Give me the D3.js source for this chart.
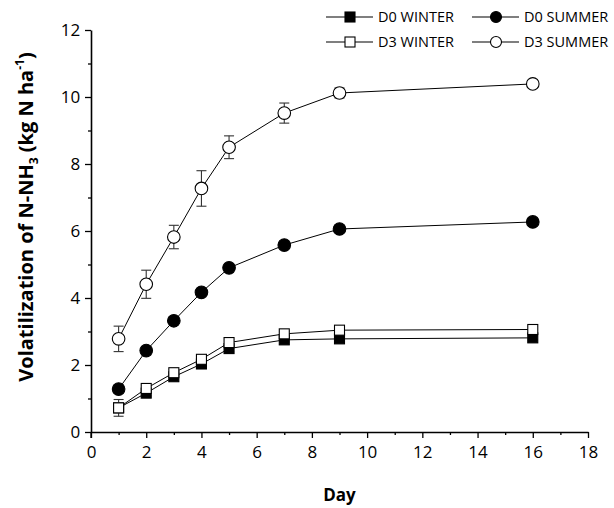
<!DOCTYPE html>
<html>
<head>
<meta charset="utf-8">
<script src="https://cdn.jsdelivr.net/npm/d3@7"></script>
<style>
  body { margin: 0; background: #fff; }
  text { font-family: "Open Sans", "Lato", sans-serif; }
</style>
</head>
<body>
<script>
(function(){

//sampling days
var days = [1, 2, 3, 4, 5, 7, 9, 16];

//series values (kg N ha-1)
var d0Winter = [0.72, 1.16, 1.65, 2.03, 2.49, 2.75, 2.78, 2.81];
var d3Winter = [0.72, 1.3, 1.77, 2.17, 2.67, 2.93, 3.04, 3.06];
var d0Summer = [1.28, 2.43, 3.32, 4.17, 4.9, 5.58, 6.06, 6.27];
var d3Summer = [2.78, 4.41, 5.82, 7.27, 8.5, 9.52, 10.12, 10.39];

//error bars (+/-)
var d0WinterErr = [0.1, 0.08, 0.08, 0.08, 0.08, 0.06, 0.06, 0.06];
var d3WinterErr = [0.25, 0.1, 0.1, 0.1, 0.1, 0.08, 0.1, 0.1];
var d0SummerErr = [0.12, 0.12, 0.08, 0.08, 0.06, 0.06, 0.06, 0.05];
var d3SummerErr = [0.38, 0.42, 0.35, 0.53, 0.34, 0.3, 0.15, 0.1];

var seriesNames = ["D0 WINTER", "D0 SUMMER", "D3 WINTER", "D3 SUMMER"];

var xTicks = [0, 2, 4, 6, 8, 10, 12, 14, 16, 18];
var yTicks = [0, 2, 4, 6, 8, 10, 12];

//series description (marker shape / fill)
var series = [
  {name: seriesNames[0], vals: d0Winter, err: d0WinterErr, shape: "square", fill: "#000"},
  {name: seriesNames[1], vals: d0Summer, err: d0SummerErr, shape: "circle", fill: "#000"},
  {name: seriesNames[2], vals: d3Winter, err: d3WinterErr, shape: "square", fill: "#fff"},
  {name: seriesNames[3], vals: d3Summer, err: d3SummerErr, shape: "circle", fill: "#fff"}
];

var width = 614, height = 508;
var margin = {left: 91, right: 26, top: 30, bottom: 76};

var svg = d3.select("body").append("svg")
    .attr("width", width)
    .attr("height", height);

var x = d3.scaleLinear().domain([0, 18]).range([margin.left, width - margin.right]);
var y = d3.scaleLinear().domain([0, 12]).range([height - margin.bottom, margin.top]);

//axes
var xAxis = svg.append("g")
    .attr("transform", "translate(0," + y(0) + ")")
    .call(d3.axisBottom(x).tickValues(xTicks).tickSize(6).tickSizeOuter(0));
var xMinor = svg.append("g")
    .attr("transform", "translate(0," + y(0) + ")")
    .call(d3.axisBottom(x).tickValues(d3.range(1, 18, 2)).tickSize(3).tickFormat(""));
xMinor.select(".domain").remove();

var yAxis = svg.append("g")
    .attr("transform", "translate(" + x(0) + ",0)")
    .call(d3.axisLeft(y).tickValues(yTicks).tickSize(6).tickSizeOuter(0));
var yMinor = svg.append("g")
    .attr("transform", "translate(" + x(0) + ",0)")
    .call(d3.axisLeft(y).tickValues(d3.range(1, 12, 2)).tickSize(3).tickFormat(""));
yMinor.select(".domain").remove();

//small tick below origin
svg.append("line")
    .attr("x1", x(0)).attr("x2", x(0))
    .attr("y1", y(0)).attr("y2", y(0) + 6)
    .attr("stroke", "#000").attr("stroke-width", 1.3);

svg.selectAll(".domain").attr("stroke-width", 1.6);
svg.selectAll(".tick line").attr("stroke-width", 1.3);
xAxis.selectAll("text").attr("font-size", 17).attr("dy", "1.0em").attr("fill", "#000");
yAxis.selectAll("text").attr("font-size", 17).attr("dx", "-0.1em").attr("fill", "#000");

//axis titles
svg.append("text")
    .attr("x", x(9)).attr("y", 501)
    .attr("text-anchor", "middle")
    .attr("font-size", 17).attr("font-weight", "bold")
    .text("Day");

var yt = svg.append("text")
    .attr("transform", "translate(33,217) rotate(-90)")
    .attr("text-anchor", "middle")
    .attr("font-size", 20).attr("font-weight", "bold");
yt.append("tspan").text("Volatilization of N-NH");
yt.append("tspan").attr("dy", 5).attr("font-size", 12).text("3");
yt.append("tspan").attr("dy", -5).text(" (kg N ha");
yt.append("tspan").attr("dy", -9).attr("font-size", 12).text("-1");
yt.append("tspan").attr("dy", 9).text(")");

var line = d3.line()
    .x(function(d){ return x(d[0]); })
    .y(function(d){ return y(d[1]); });

function drawMarker(g, shape, fill, cx, cy, size){
  if (shape === "circle"){
    g.append("circle")
        .attr("cx", cx).attr("cy", cy).attr("r", size)
        .attr("fill", fill).attr("stroke", "#000").attr("stroke-width", 1.1);
  } else {
    g.append("rect")
        .attr("x", cx - size + 0.5).attr("y", cy - size + 0.5)
        .attr("width", 2 * size - 1).attr("height", 2 * size - 1)
        .attr("fill", fill).attr("stroke", "#000").attr("stroke-width", 1.1);
  }
}

//series lines, error bars, markers
series.forEach(function(s){
  var pts = days.map(function(d, i){ return [d, s.vals[i], s.err[i]]; });
  var g = svg.append("g");

  g.append("path")
      .datum(pts)
      .attr("d", line)
      .attr("fill", "none")
      .attr("stroke", "#000")
      .attr("stroke-width", 1);

  pts.forEach(function(p){
    var px = x(p[0]);
    var top = y(p[1] + p[2]), bot = y(p[1] - p[2]);
    g.append("line").attr("x1", px).attr("x2", px).attr("y1", top).attr("y2", bot)
        .attr("stroke", "#333").attr("stroke-width", 1.1);
    [top, bot].forEach(function(yy){
      g.append("line").attr("x1", px - 5).attr("x2", px + 5).attr("y1", yy).attr("y2", yy)
          .attr("stroke", "#333").attr("stroke-width", 1.1);
    });
    drawMarker(g, s.shape, s.fill, px, y(p[1]), s.shape === "circle" ? 6.3 : 5.5);
  });
});

//legend
var legPos = [[326, 17], [472, 17], [326, 42], [472, 42]];
series.forEach(function(s, i){
  var lx = legPos[i][0], ly = legPos[i][1];
  var lg = svg.append("g");
  lg.append("line")
      .attr("x1", lx).attr("x2", lx + 47)
      .attr("y1", ly).attr("y2", ly)
      .attr("stroke", "#000").attr("stroke-width", 1.1);
  drawMarker(lg, s.shape, s.fill, lx + 24, ly, 5.5);
  lg.append("text")
      .attr("x", lx + 52).attr("y", ly)
      .attr("dy", "0.35em")
      .attr("font-size", 14.5)
      .text(s.name);
});

})();
</script>
</body>
</html>
